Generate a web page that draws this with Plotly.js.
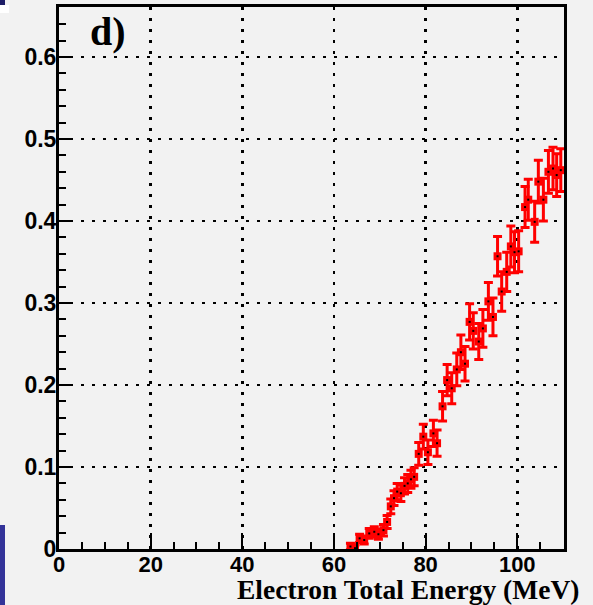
<!DOCTYPE html>
<html>
<head>
<meta charset="utf-8">
<script src="https://cdn.plot.ly/plotly-3.0.1.min.js"></script>
<style>
  html, body { margin: 0; padding: 0; background: #f2f2f2; }
  #chart { width: 593px; height: 605px; position: relative; }
  .deco { position: absolute; z-index: 10; }
</style>
</head>
<body>
<div id="chart"></div>
<div class="deco" style="left:0;top:0;width:5px;height:5px;background:#1c1c66;"></div>
<div class="deco" style="left:0;top:5px;width:9px;height:8px;background:#ffffff;"></div>
<div class="deco" style="left:0;top:525px;width:5px;height:80px;background:#333399;"></div>
<script>
// Electron total energy (MeV)
const energy = [63.6, 64.6, 65.6, 66.6, 67.7, 68.8, 69.7, 70.8, 71.6, 72.4,
  73.1, 73.8, 74.6, 75.4, 76.1, 76.8, 77.5, 78.5, 79.5, 80.5,
  81.7, 82.5, 83.7, 84.7, 85.7, 86.8, 87.7, 88.6, 89.6, 90.4,
  91.6, 92.5, 93.7, 94.7, 95.7, 96.6, 97.7, 98.6, 99.4, 100.3,
  101.7, 102.4, 103.8, 104.6, 105.7, 106.8, 107.8, 108.6, 109.5];
// Measured values
const value = [0.003, 0.001, 0.013, 0.011, 0.019, 0.021, 0.018, 0.023, 0.033, 0.052,
  0.062, 0.070, 0.068, 0.077, 0.080, 0.085, 0.088, 0.116, 0.137, 0.118,
  0.141, 0.129, 0.174, 0.206, 0.196, 0.219, 0.240, 0.226, 0.277, 0.266,
  0.253, 0.269, 0.302, 0.283, 0.357, 0.314, 0.338, 0.369, 0.362, 0.363,
  0.417, 0.426, 0.399, 0.448, 0.426, 0.460, 0.464, 0.456, 0.462];
// Statistical errors
const error = [0.004, 0.004, 0.005, 0.005, 0.006, 0.006, 0.006, 0.007, 0.008, 0.009,
  0.009, 0.010, 0.010, 0.010, 0.011, 0.011, 0.011, 0.014, 0.015, 0.015,
  0.016, 0.016, 0.018, 0.019, 0.019, 0.020, 0.021, 0.021, 0.022, 0.022,
  0.022, 0.023, 0.023, 0.023, 0.024, 0.024, 0.024, 0.025, 0.025, 0.025,
  0.025, 0.025, 0.025, 0.026, 0.026, 0.026, 0.026, 0.026, 0.026];
const xTicks = [0, 20, 40, 60, 80, 100];
const yTicks = [0, 0.1, 0.2, 0.3, 0.4, 0.5, 0.6];
const yTickText = ['0', '0.1', '0.2', '0.3', '0.4', '0.5', '0.6'];
const panelLabel = 'd)';
const xTitle = 'Electron Total Energy (MeV)';

const traces = [
  {
    x: energy, y: value, type: 'scatter', mode: 'markers',
    marker: { symbol: 'square', size: 8, color: '#ff0000' },
    error_y: { type: 'data', array: error, visible: true, color: '#ff0000', thickness: 3, width: 4.5 },
    hoverinfo: 'skip', showlegend: false
  },
  {
    x: energy, y: value, type: 'scatter', mode: 'markers',
    marker: { symbol: 'square', size: 2, color: '#000000' },
    hoverinfo: 'skip', showlegend: false
  }
];

const axisCommon = {
  showline: true, mirror: true, linecolor: '#000', linewidth: 3,
  ticks: 'inside', tickcolor: '#000', tickwidth: 2,
  showgrid: true, gridcolor: '#000', gridwidth: 2.5, griddash: '2.5px,8.5px',
  zeroline: false,
  tickfont: { family: 'Liberation Sans, Arial, sans-serif', size: 23, color: '#000', weight: 'bold' },
  fixedrange: true
};

const layout = {
  width: 593, height: 605,
  margin: { l: 59, r: 29, t: 7, b: 56 },
  paper_bgcolor: '#f2f2f2', plot_bgcolor: '#f2f2f2',
  xaxis: Object.assign({}, axisCommon, {
    range: [0, 110.2], tickvals: xTicks, ticklen: 16,
    tickfont: { family: 'Liberation Sans, Arial, sans-serif', size: 22, color: '#000', weight: 'bold' },
    minor: { ticks: 'inside', dtick: 5, tick0: 0, ticklen: 7, tickwidth: 2, tickcolor: '#000', showgrid: false },
    ticklabelstandoff: -6
  }),
  yaxis: Object.assign({}, axisCommon, {
    range: [0, 0.661], tickvals: yTicks, ticktext: yTickText, ticklen: 13,
    minor: { ticks: 'inside', dtick: 0.02, tick0: 0, ticklen: 7, tickwidth: 2, tickcolor: '#000', showgrid: false },
    ticklabelstandoff: -5
  }),
  annotations: [
    { text: panelLabel, xref: 'paper', yref: 'paper', x: 0.058, y: 1.0, xanchor: 'left', yanchor: 'top',
      showarrow: false, font: { family: 'Liberation Serif, Times New Roman, serif', size: 40, color: '#000', weight: 'bold' } },
    { text: xTitle, xref: 'paper', yref: 'paper', x: 1.034, y: -0.042, xanchor: 'right', yanchor: 'top',
      showarrow: false, font: { family: 'Liberation Serif, Times New Roman, serif', size: 27.5, color: '#000', weight: 'bold' } }
  ]
};

Plotly.newPlot('chart', traces, layout, { displayModeBar: false, staticPlot: true });
</script>
</body>
</html>
